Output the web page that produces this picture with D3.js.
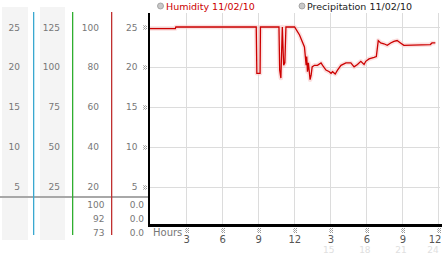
<!DOCTYPE html>
<html><head><meta charset="utf-8">
<script src="https://cdn.jsdelivr.net/npm/d3@7"></script>
<style>
body{margin:0;background:#fff;}
svg{display:block;}
text{font-family:"DejaVu Sans",Verdana,sans-serif;}
</style></head>
<body>
<script>
// ---- data ----
const hours = [0,2.15,2.19,8.88,8.93,9.2,9.23,10.77,10.83,10.93,11.05,11.16,11.26,11.35,12.07,12.48,12.89,13.03,13.08,13.14,13.22,13.36,13.45,13.53,13.72,13.97,14.27,14.4,14.68,14.96,15.1,15.23,15.45,15.64,15.93,16.34,16.75,17.02,17.3,17.58,17.85,17.99,18.26,18.68,18.87,19.03,19.23,19.5,19.78,20.06,20.33,20.6,20.88,21.16,23.36,23.5,23.78];
const humidity = [24.8,24.8,25,25,19.2,19.2,25,25,19.6,18.6,25,20.2,20.5,25,25,24.0,22.5,20.2,21.3,19.4,20.5,18.4,19.0,20.0,20.2,20.2,20.5,20.2,19.6,19.4,19.2,19.4,19.1,19.6,20.2,20.5,20.5,20.0,20.3,20.7,20.3,20.7,21.0,21.2,21.3,23.3,23.0,22.9,22.7,23.0,23.2,23.3,23.0,22.7,22.8,23.0,23.0];
const yTicks = [25,20,15,10,5];
const axis2Ticks = [125,100,75,50,25];
const axis3Ticks = [100,80,60,40,20];
const xTickValues = [3,6,9,12,15,18,21,24];
const xTickLabels = ["3","6","9","12","3","6","9","12"];
const xTickLabels2 = ["","","","","15","18","21","24"];
const readoutA = [100,92,73];
const readoutB = ["0.0","0.0","0.0"];
const legendLabels = ["Humidity 11/02/10","Precipitation 11/02/10"];

const W=442,H=253;
const svg=d3.select("body").append("svg").attr("width",W).attr("height",H);
const defs=svg.append("defs");
const pat=defs.append("pattern").attr("id","dots").attr("width",2).attr("height",2).attr("patternUnits","userSpaceOnUse");
pat.append("rect").attr("x",0).attr("y",0).attr("width",1).attr("height",1).attr("fill","#999");
pat.append("rect").attr("x",1).attr("y",1).attr("width",1).attr("height",1).attr("fill","#bbb");

const x=d3.scaleLinear().domain([0,24]).range([149.5,438]);
const y=d3.scaleLinear().domain([0,25]).range([226.5,27]);
const y2=d3.scaleLinear().domain([0,125]).range([226.5,27]);
const y3=d3.scaleLinear().domain([0,100]).range([226.5,27]);

// left panel backgrounds
svg.append("rect").attr("x",2).attr("y",7).attr("width",26).attr("height",233).attr("fill","#f4f4f4");
svg.append("rect").attr("x",40).attr("y",7).attr("width",25).attr("height",233).attr("fill","#f4f4f4");

// grey separator
svg.append("rect").attr("x",0).attr("y",196).attr("width",149).attr("height",2).attr("fill","#a8a8a8");

// coloured vertical lines
[[33,"#3aa8d0"],[72,"#2fae2f"],[111,"#c03030"]].forEach(([px,c])=>{
  svg.append("rect").attr("x",px).attr("width",1.3).attr("y",12).attr("height",223).attr("fill",c);
});

const lab=(g,vals,sc,xx,anchor)=>{
  g.selectAll(null).data(vals).join("text").attr("x",xx).attr("y",d=>sc(d)+3.5)
   .attr("text-anchor",anchor).attr("font-size",9).attr("fill","#777").text(d=>d);
};
lab(svg.append("g"),yTicks,y,20,"end");
lab(svg.append("g"),axis2Ticks,y2,60,"end");
lab(svg.append("g"),axis3Ticks,y3,99,"end");
lab(svg.append("g"),yTicks,y,137.5,"end");
// tick markers left
svg.append("g").selectAll(null).data(yTicks).join("rect")
  .attr("x",143).attr("y",d=>Math.round(y(d))-2).attr("width",4).attr("height",5).attr("fill","url(#dots)");

// readouts
svg.append("g").selectAll(null).data(readoutA).join("text").attr("x",104.5).attr("y",(d,i)=>207.5+i*14.2)
  .attr("text-anchor","end").attr("font-size",9).attr("fill","#777").text(d=>d);
svg.append("g").selectAll(null).data(readoutB).join("text").attr("x",144).attr("y",(d,i)=>207.5+i*14.2)
  .attr("text-anchor","end").attr("font-size",9).attr("fill","#777").text(d=>d);

// grid
const grid=svg.append("g").attr("stroke","#dcdcdc").attr("stroke-width",1);
grid.selectAll(null).data(yTicks).join("line").attr("x1",149).attr("x2",440)
  .attr("y1",d=>Math.round(y(d))+0.5).attr("y2",d=>Math.round(y(d))+0.5);
grid.selectAll(null).data(xTickValues).join("line").attr("y1",13).attr("y2",225)
  .attr("x1",d=>Math.round(x(d))+0.5).attr("x2",d=>Math.round(x(d))+0.5);

// humidity line
const line=d3.line().x((d,i)=>x(hours[i])).y(d=>y(d));
svg.append("path").attr("d",line(humidity)).attr("fill","none").attr("stroke","#f8cccc").attr("stroke-width",4.5).attr("stroke-linejoin","round").attr("opacity",0.6);
svg.append("path").attr("d",line(humidity)).attr("fill","none").attr("stroke","#cc0000").attr("stroke-width",1.3);

// axes
svg.append("line").attr("x1",149).attr("x2",149).attr("y1",13).attr("y2",226).attr("stroke","#000").attr("stroke-width",2);
svg.append("line").attr("x1",148).attr("x2",442).attr("y1",225.5).attr("y2",225.5).attr("stroke","#000").attr("stroke-width",3);

// x tick markers and labels
const lx=(d,i)=> i===xTickValues.length-1 ? x(d)-3 : x(d)+1;
svg.append("g").selectAll(null).data(xTickValues).join("rect")
  .attr("x",d=>Math.round(x(d))-1).attr("y",228).attr("width",4).attr("height",5).attr("fill","url(#dots)");
svg.append("g").selectAll(null).data(xTickValues).join("text")
  .attr("x",lx).attr("y",243).attr("text-anchor","middle").attr("font-size",10).attr("fill","#555")
  .text((d,i)=>xTickLabels[i]);
svg.append("g").selectAll(null).data(xTickValues).join("text")
  .attr("x",(d,i)=>lx(d,i)-2).attr("y",252.5).attr("text-anchor","middle").attr("font-size",9).attr("fill","#e0e0e0")
  .text((d,i)=>xTickLabels2[i]);
svg.append("text").attr("x",153).attr("y",236).attr("font-size",10).attr("fill","#777").text("Hours");

// legend
const leg=[[160.5,166,"#cc0000"],[302,307,"#222"]];
leg.forEach(([cx,tx,c],i)=>{
  svg.append("circle").attr("cx",cx).attr("cy",6).attr("r",3).attr("fill","#c8c8c8").attr("stroke","#999").attr("stroke-width",0.8);
  svg.append("text").attr("x",tx).attr("y",10).attr("font-size",9.5).attr("fill",c).text(legendLabels[i]);
});
</script>
</body></html>
